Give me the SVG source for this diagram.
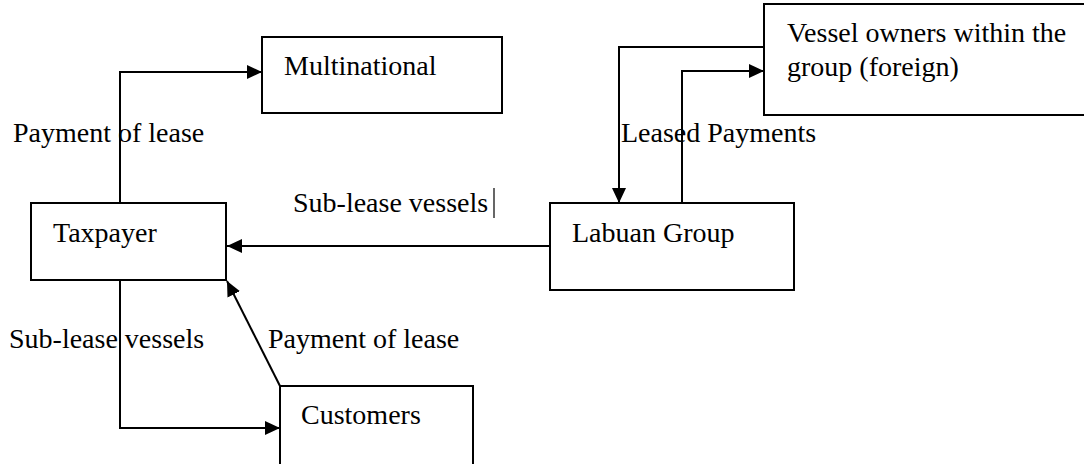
<svg xmlns="http://www.w3.org/2000/svg" width="1084" height="464" viewBox="0 0 1084 464">
<style>
.box{fill:#fff;stroke:#000;stroke-width:2}
.t{font-family:"Liberation Serif","Times New Roman",serif;font-size:28px;fill:#000}
.c{fill:none;stroke:#000;stroke-width:2}
</style>
<defs>
<marker id="ah" markerUnits="userSpaceOnUse" markerWidth="16" markerHeight="14" refX="15" refY="7" orient="auto">
<path d="M0,0 L15,7 L0,14 z" fill="#000"/>
</marker>
</defs>
<rect width="1084" height="464" fill="#fff"/>
<g id="connectors">
<path class="c" d="M120,203 V72 H262" marker-end="url(#ah)"/>
<path class="c" d="M764,47 H619 V203" marker-end="url(#ah)"/>
<path class="c" d="M682,203 V71 H764" marker-end="url(#ah)"/>
<path class="c" d="M550,246 H227" marker-end="url(#ah)"/>
<path class="c" d="M120,280 V428 H280" marker-end="url(#ah)"/>
<path class="c" d="M280,386 L227,281" marker-end="url(#ah)"/>
</g>
<g id="labels">
<text class="t" x="13" y="142">Payment of lease</text>
<text class="t" x="293" y="212">Sub-lease vessels</text>
<line x1="494" y1="188" x2="494" y2="218" stroke="#000" stroke-width="1.2"/>
<text class="t" x="621" y="142">Leased Payments</text>
<text class="t" x="9" y="348">Sub-lease vessels</text>
<text class="t" x="268" y="348">Payment of lease</text>
</g>
<g id="multinational">
<rect class="box" x="262" y="37" width="240" height="76"/>
<text class="t" x="284" y="75">Multinational</text>
</g>
<g id="taxpayer">
<rect class="box" x="31" y="203" width="195" height="77"/>
<text class="t" x="53" y="242">Taxpayer</text>
</g>
<g id="labuan">
<rect class="box" x="550" y="203" width="244" height="87"/>
<text class="t" x="572" y="242">Labuan Group</text>
</g>
<g id="vessel-owners">
<rect class="box" x="764" y="4" width="340" height="111"/>
<text class="t" x="787" y="42">Vessel owners within the</text>
<text class="t" x="787" y="76">group (foreign)</text>
</g>
<g id="customers">
<rect class="box" x="280" y="386" width="193" height="100"/>
<text class="t" x="301" y="424">Customers</text>
</g>
</svg>
